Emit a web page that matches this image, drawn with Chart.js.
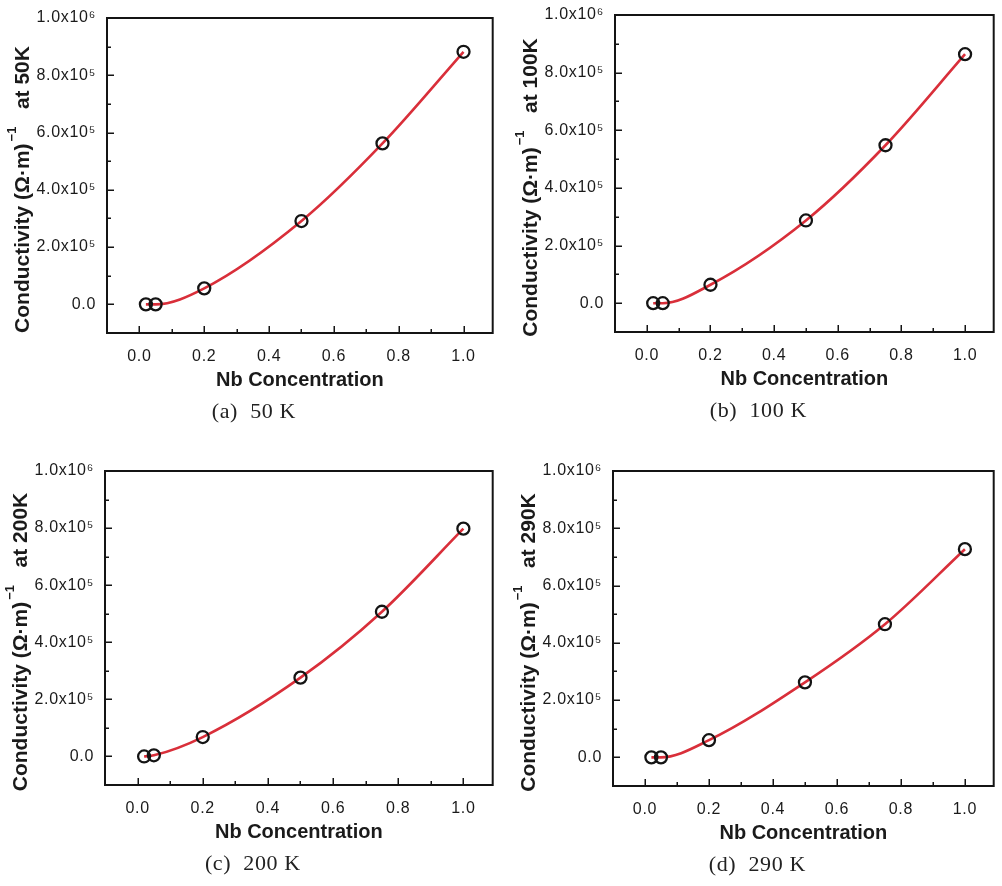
<!DOCTYPE html>
<html>
<head>
<meta charset="utf-8">
<script src="https://cdn.jsdelivr.net/npm/chart.js@4.4.1/dist/chart.umd.min.js"></script>
<style>
  html, body { margin: 0; padding: 0; background: #fff; width: 1002px; height: 886px; overflow: hidden; }
  .panel { position: absolute; width: 501px; height: 443px; }
  canvas { display: block; }
</style>
</head>
<body>
<div class="panel" style="left:0;top:0"><canvas id="p50" width="501" height="443"></canvas></div>
<div class="panel" style="left:501px;top:0"><canvas id="p100" width="501" height="443"></canvas></div>
<div class="panel" style="left:0;top:443px"><canvas id="p200" width="501" height="443"></canvas></div>
<div class="panel" style="left:501px;top:443px"><canvas id="p290" width="501" height="443"></canvas></div>
<script>
// Nb concentration of each sample
const nbConcentration = [0.02, 0.05, 0.2, 0.5, 0.75, 1.0];

// Electrical conductivity, (Ohm*m)^-1, at each measuring temperature
const sigma50K  = [0, 0, 56000, 291000, 562000, 882000];
const sigma100K = [0, 0, 64000, 287000, 548000, 864000];
const sigma200K = [0, 4000, 68000, 276000, 507000, 798000];
const sigma290K = [0, 0, 60000, 262000, 465000, 727000];

// Axis ticks
const xTickValues = [0, 0.2, 0.4, 0.6, 0.8, 1.0];
const xTickLabels = ['0.0', '0.2', '0.4', '0.6', '0.8', '1.0'];
const xMinorTicks = [0.1, 0.3, 0.5, 0.7, 0.9];
const yTickValues = [0, 200000, 400000, 600000, 800000, 1000000];
const yTickLabels = ['0.0', '2.0x10\u2075', '4.0x10\u2075', '6.0x10\u2075', '8.0x10\u2075', '1.0x10\u2076'];
const yMinorTicks = [100000, 300000, 500000, 700000, 900000];

// Panel texts
const temperatureLabels = ['50K', '100K', '200K', '290K'];
const captions = ['(a)  50 K', '(b)  100 K', '(c)  200 K', '(d)  290 K'];
const xTitle = 'Nb Concentration';

// Plot-box placement inside each 501x443 canvas
const layouts = [
  { id: 'p50',  top: 18, right: 4, yWidth: 107, xHeight: 110 },
  { id: 'p100', top: 15, right: 2, yWidth: 114, xHeight: 111 },
  { id: 'p200', top: 28, right: 8, yWidth: 105, xHeight: 101 },
  { id: 'p290', top: 28, right: 2, yWidth: 112, xHeight: 100 }
];
const seriesList = [sigma50K, sigma100K, sigma200K, sigma290K];

const INK = '#141414';
const TEXT = '#1a1a1a';
const FIT_RED = '#d92f3a';
const SANS = "'Liberation Sans', Arial, sans-serif";
const SERIF = "'Liberation Serif', 'Times New Roman', serif";

// Frame, inward ticks, axis titles and caption
function framePlugin(temp, caption) {
  return {
    id: 'frameAndTitles',
    beforeDraw(chart) {
      chart.ctx.letterSpacing = '0.7px';
    },
    afterDraw(chart) {
      const { ctx, chartArea: a, scales } = chart;
      const xs = scales.x, ys = scales.y;
      ctx.save();
      ctx.letterSpacing = '0px';
      ctx.strokeStyle = INK;

      // inward tick marks on the left and bottom axes
      ctx.lineWidth = 1.5;
      ctx.beginPath();
      xTickValues.forEach(v => { const p = Math.round(xs.getPixelForValue(v)) + 0.25; ctx.moveTo(p, a.bottom); ctx.lineTo(p, a.bottom - 7); });
      xMinorTicks.forEach(v => { const p = Math.round(xs.getPixelForValue(v)) + 0.25; ctx.moveTo(p, a.bottom); ctx.lineTo(p, a.bottom - 4); });
      yTickValues.forEach(v => { const p = Math.round(ys.getPixelForValue(v)) + 0.25; ctx.moveTo(a.left, p); ctx.lineTo(a.left + 7, p); });
      yMinorTicks.forEach(v => { const p = Math.round(ys.getPixelForValue(v)) + 0.25; ctx.moveTo(a.left, p); ctx.lineTo(a.left + 4, p); });
      ctx.stroke();

      // plot box
      ctx.lineWidth = 2;
      ctx.strokeRect(a.left, a.top, a.right - a.left, a.bottom - a.top);

      ctx.fillStyle = TEXT;

      // x-axis title
      ctx.font = 'bold 20px ' + SANS;
      ctx.textAlign = 'center';
      ctx.textBaseline = 'middle';
      ctx.fillText(xTitle, (a.left + a.right) / 2, a.bottom + 47);

      // y-axis title, rotated, with the -1 exponent raised
      const main = 'Conductivity (\u03A9\u00B7m)';
      const sup = '\u22121';
      const tail = '   at ' + temp;
      const bigFont = 'bold 21px ' + SANS;
      const supFont = 'bold 13px ' + SANS;
      ctx.font = bigFont;
      const wMain = ctx.measureText(main).width;
      const wTail = ctx.measureText(tail).width;
      ctx.font = supFont;
      const wSup = ctx.measureText(sup).width;
      const total = wMain + 2 + wSup + wTail;
      ctx.save();
      ctx.translate(a.left - 84, (a.top + a.bottom) / 2 + 14);
      ctx.rotate(-Math.PI / 2);
      ctx.textAlign = 'left';
      ctx.textBaseline = 'middle';
      let cx = -total / 2;
      ctx.font = bigFont;
      ctx.fillText(main, cx, 0);
      cx += wMain + 2;
      ctx.font = supFont;
      ctx.fillText(sup, cx, -11);
      cx += wSup;
      ctx.font = bigFont;
      ctx.fillText(tail, cx, 0);
      ctx.restore();

      // panel caption
      ctx.font = '22px ' + SERIF;
      ctx.letterSpacing = '0.6px';
      ctx.textAlign = 'center';
      ctx.textBaseline = 'middle';
      ctx.fillStyle = '#222';
      ctx.fillText(caption, (a.left + a.right) / 2 - 46, a.bottom + 79);

      ctx.restore();
    }
  };
}

layouts.forEach((lay, i) => {
  const values = seriesList[i];
  const points = nbConcentration.map((x, k) => ({ x: x, y: values[k] }));
  new Chart(document.getElementById(lay.id), {
    type: 'scatter',
    data: {
      datasets: [
        {
          type: 'line',
          data: points,
          borderColor: FIT_RED,
          borderWidth: 2.6,
          pointRadius: 0,
          fill: false,
          cubicInterpolationMode: 'monotone',
          order: 2
        },
        {
          type: 'scatter',
          data: points,
          pointRadius: 6,
          pointBorderWidth: 2.3,
          pointBorderColor: INK,
          pointBackgroundColor: 'rgba(0,0,0,0)',
          order: 1
        }
      ]
    },
    options: {
      responsive: false,
      animation: false,
      devicePixelRatio: 1,
      layout: { padding: { top: lay.top, right: lay.right, left: 0, bottom: 0 } },
      plugins: { legend: { display: false }, tooltip: { enabled: false }, title: { display: false } },
      scales: {
        x: {
          type: 'linear',
          position: 'bottom',
          min: -0.1,
          max: 1.09,
          afterFit(s) { s.height = lay.xHeight; },
          afterBuildTicks(s) { s.ticks = xTickValues.map(v => ({ value: v })); },
          ticks: {
            autoSkip: false,
            maxRotation: 0,
            padding: 6,
            color: TEXT,
            font: { family: SANS, size: 16 },
            callback: (v, idx) => xTickLabels[idx]
          },
          grid: { display: false },
          border: { display: false }
        },
        y: {
          type: 'linear',
          position: 'left',
          min: -100000,
          max: 1000000,
          afterFit(s) { s.width = lay.yWidth; },
          afterBuildTicks(s) { s.ticks = yTickValues.map(v => ({ value: v })); },
          ticks: {
            autoSkip: false,
            padding: 3,
            color: TEXT,
            font: { family: SANS, size: 16 },
            callback: (v, idx) => yTickLabels[idx]
          },
          grid: { display: false },
          border: { display: false }
        }
      }
    },
    plugins: [framePlugin(temperatureLabels[i], captions[i])]
  });
});
</script>
</body>
</html>
